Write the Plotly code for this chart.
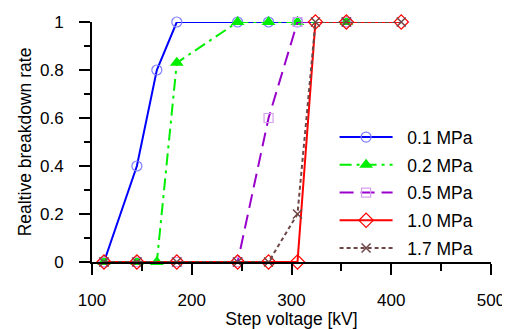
import plotly.graph_objects as go

# Data
names = ["0.1 MPa", "0.2 MPa", "0.5 MPa", "1.0 MPa", "1.7 MPa"]
x_01 = [112, 145, 165, 185, 246, 277, 306, 355]
y_01 = [0, 0.4, 0.8, 1, 1, 1, 1, 1]
x_02 = [112, 145, 165, 185, 246, 277, 306, 355]
y_02 = [0, 0, 0, 0.83, 1, 1, 1, 1]
x_05 = [112, 145, 185, 246, 277, 306, 355]
y_05 = [0, 0, 0, 0, 0.6, 1, 1]
x_10 = [112, 145, 185, 246, 277, 306, 324, 355, 410]
y_10 = [0, 0, 0, 0, 0, 0, 1, 1, 1]
x_17 = [112, 145, 185, 246, 277, 306, 324, 355, 410]
y_17 = [0, 0, 0, 0, 0, 0.2, 1, 1, 1]

FONT = "Liberation Sans, Arial, sans-serif"

styles = [
    dict(line=dict(color="#0000ff", width=2, dash="solid"),
         marker=dict(symbol="circle-open", size=10, color="#7f7fff", line=dict(width=1.2))),
    dict(line=dict(color="#00ee00", width=2, dash="12px,5px,3px,5px"),
         marker=dict(symbol="triangle-up", size=12, color="#00ee00")),
    dict(line=dict(color="#9900cc", width=2, dash="14px,7px"),
         marker=dict(symbol="square-open", size=9, color="#d79ff0", line=dict(width=1.2))),
    dict(line=dict(color="#ff0000", width=2, dash="solid"),
         marker=dict(symbol="diamond-open", size=11, color="#ff0000", line=dict(width=1.2))),
    dict(line=dict(color="#6e4646", width=2, dash="4px,3px"),
         marker=dict(symbol="x-thin-open", size=9, color="#6e4646", line=dict(width=1.5))),
]

xs = [x_01, x_02, x_05, x_10, x_17]
ys = [y_01, y_02, y_05, y_10, y_17]

fig = go.Figure()
for i, (n, x, y, s) in enumerate(zip(names, xs, ys, styles)):
    fig.add_trace(go.Scatter(x=x, y=y, name="\u00a0\u00a0" + n, mode="lines+markers",
                             line=s["line"], marker=s["marker"], cliponaxis=False,
                             legendgroup=str(i)))

# page body has an 8px margin, so the figure is sized/offset to compensate
fig.update_layout(
    width=502, height=321,
    margin=dict(l=84, r=19, t=14, b=67),
    paper_bgcolor="white", plot_bgcolor="white",
    font=dict(family=FONT, size=17, color="black"),
    showlegend=True,
    legend=dict(x=0.608, y=0.595, xanchor="left", yanchor="top",
                bgcolor="rgba(0,0,0,0)", itemwidth=53,
                traceorder="grouped", tracegroupgap=2,
                font=dict(family=FONT, size=17.5)),
    xaxis=dict(range=[100, 500], showline=True, linecolor="black", linewidth=2,
               ticks="outside", ticklen=11, tickwidth=2, tickcolor="black",
               tickvals=[100, 200, 300, 400, 500], showgrid=False, zeroline=False,
               ticklabelstandoff=11, automargin=False,
               minor=dict(tickvals=[150, 250, 350, 450], ticks="outside", ticklen=7,
                          tickwidth=2, tickcolor="black", showgrid=False),
               title=dict(text="Step voltage [kV]", font=dict(size=17.5), standoff=2)),
    yaxis=dict(range=[0, 1], showline=True, linecolor="black", linewidth=2,
               ticks="outside", ticklen=11, tickwidth=2, tickcolor="black",
               tickvals=[0, 0.2, 0.4, 0.6, 0.8, 1], ticktext=["0", "0.2", "0.4", "0.6", "0.8", "1"],
               showgrid=False, zeroline=False, ticklabelstandoff=12, automargin=False,
               minor=dict(tickvals=[0.1, 0.3, 0.5, 0.7, 0.9], ticks="outside", ticklen=6,
                          tickwidth=2, tickcolor="black", showgrid=False),
               title=dict(text="Realtive breakdown rate", font=dict(size=17.5), standoff=4)),
)

fig.write_html("out.html")
